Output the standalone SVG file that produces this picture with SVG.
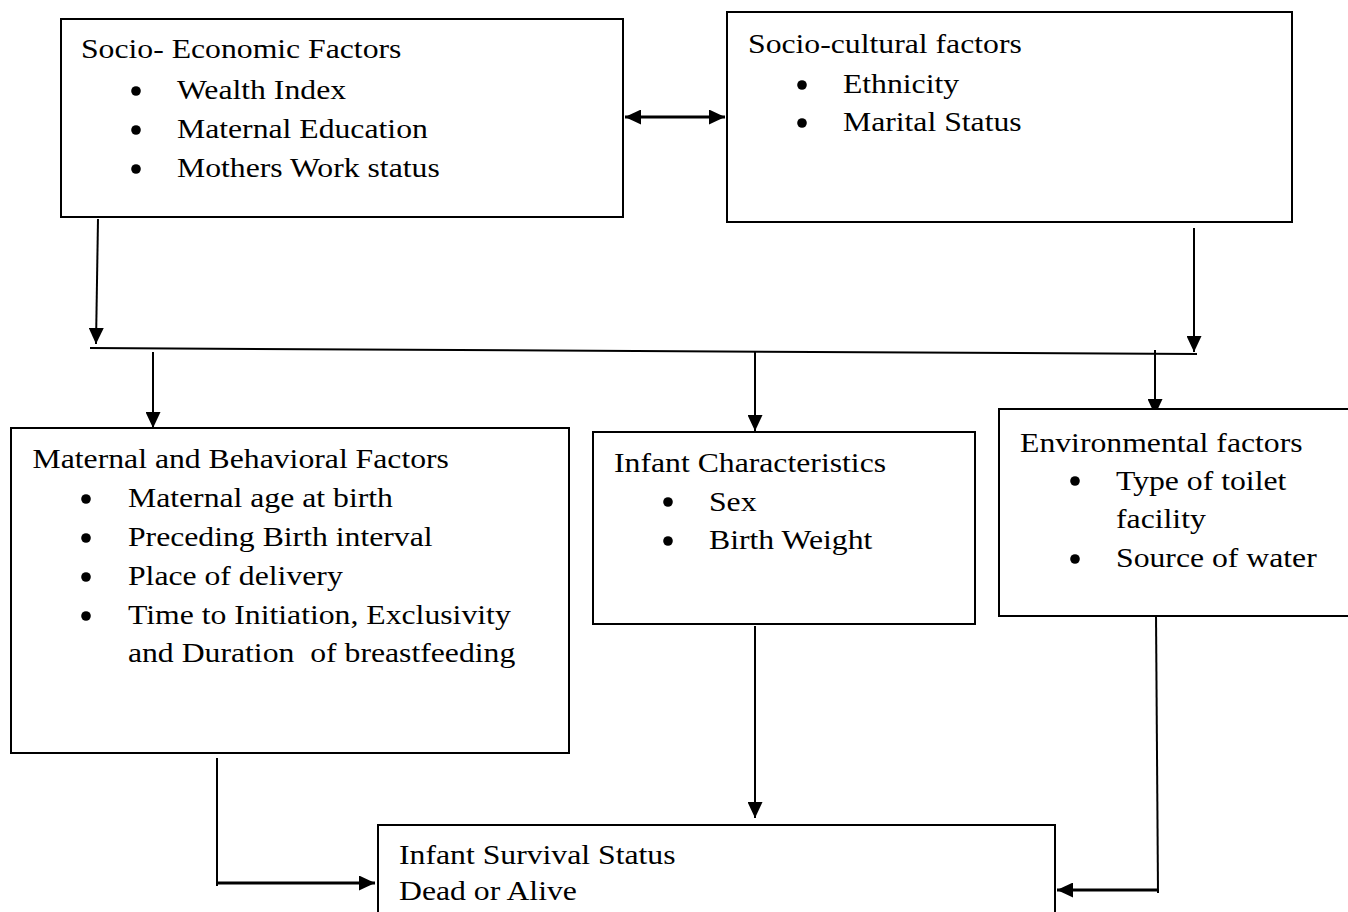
<svg xmlns="http://www.w3.org/2000/svg" width="1348" height="912" viewBox="0 0 1348 912">
<style>
.box{fill:#fff;stroke:#000;stroke-width:2}
text{font-family:'Liberation Serif','Times New Roman',serif;font-size:27px;fill:#000}
.c{stroke:#000;stroke-width:2;fill:none}
.t{stroke-width:3}
.b{fill:#000}
</style>
<defs>
<marker id="ah" viewBox="0 0 16 15" refX="16" refY="7.5" markerWidth="16" markerHeight="15" markerUnits="userSpaceOnUse" orient="auto-start-reverse">
<path d="M0,0 L16,7.5 L0,15 z" fill="#000"/>
</marker>
</defs>
<rect width="1348" height="912" fill="#fff"/>
<g id="connectors">
<line class="c t" x1="625" y1="117" x2="725" y2="117" marker-start="url(#ah)" marker-end="url(#ah)"/>
<line class="c" x1="98" y1="219" x2="96" y2="344" marker-end="url(#ah)"/>
<line class="c" x1="1194" y1="228" x2="1194" y2="352" marker-end="url(#ah)"/>
<line class="c" x1="90" y1="348" x2="1197" y2="354" stroke-width="2.4"/>
<line class="c" x1="153" y1="352" x2="153" y2="428" marker-end="url(#ah)"/>
<line class="c" x1="755" y1="352" x2="755" y2="431" marker-end="url(#ah)"/>
<line class="c" x1="1155" y1="350" x2="1155" y2="415" marker-end="url(#ah)"/>
<line class="c" x1="755" y1="626" x2="755" y2="818" marker-end="url(#ah)"/>
<line class="c" x1="217" y1="758" x2="217" y2="886"/>
<line class="c t" x1="216" y1="883" x2="375" y2="883" marker-end="url(#ah)"/>
<line class="c" x1="1156" y1="614" x2="1158" y2="893"/>
<line class="c t" x1="1158" y1="890" x2="1057" y2="890" marker-end="url(#ah)"/>
</g>
<g id="socio-economic">
<rect class="box" x="61" y="19" width="562" height="198"/>
<circle class="b" cx="136" cy="91" r="4.8"/>
<circle class="b" cx="136" cy="130" r="4.8"/>
<circle class="b" cx="136" cy="169" r="4.8"/>
<g transform="scale(1.175,1)">
<text x="68.9" y="58">Socio- Economic Factors</text>
<text x="150.6" y="99">Wealth Index</text>
<text x="150.6" y="138">Maternal Education</text>
<text x="150.6" y="177">Mothers Work status</text>
</g>
</g>
<g id="socio-cultural">
<rect class="box" x="727" y="12" width="565" height="210"/>
<circle class="b" cx="802" cy="85" r="4.8"/>
<circle class="b" cx="802" cy="123" r="4.8"/>
<g transform="scale(1.175,1)">
<text x="636.6" y="53">Socio-cultural factors</text>
<text x="717.4" y="93">Ethnicity</text>
<text x="717.4" y="131">Marital Status</text>
</g>
</g>
<g id="maternal">
<rect class="box" x="11" y="428" width="558" height="325"/>
<circle class="b" cx="86" cy="499" r="4.8"/>
<circle class="b" cx="86" cy="538" r="4.8"/>
<circle class="b" cx="86" cy="577" r="4.8"/>
<circle class="b" cx="86" cy="616" r="4.8"/>
<g transform="scale(1.175,1)">
<text x="27.7" y="468">Maternal and Behavioral Factors</text>
<text x="108.9" y="507">Maternal age at birth</text>
<text x="108.9" y="546">Preceding Birth interval</text>
<text x="108.9" y="585">Place of delivery</text>
<text x="108.9" y="624">Time to Initiation, Exclusivity</text>
<text x="108.9" y="662" xml:space="preserve">and Duration  of breastfeeding</text>
</g>
</g>
<g id="infant-characteristics">
<rect class="box" x="593" y="432" width="382" height="192"/>
<circle class="b" cx="668" cy="502" r="4.8"/>
<circle class="b" cx="668" cy="541" r="4.8"/>
<g transform="scale(1.175,1)">
<text x="522.6" y="472">Infant Characteristics</text>
<text x="603.4" y="511">Sex</text>
<text x="603.4" y="549">Birth Weight</text>
</g>
</g>
<g id="environmental">
<rect class="box" x="999" y="409" width="360" height="207"/>
<circle class="b" cx="1075" cy="481" r="4.8"/>
<circle class="b" cx="1075" cy="559" r="4.8"/>
<g transform="scale(1.175,1)">
<text x="868.1" y="452">Environmental factors</text>
<text x="949.8" y="490">Type of toilet</text>
<text x="949.8" y="528">facility</text>
<text x="949.8" y="567">Source of water</text>
</g>
</g>
<g id="survival">
<rect class="box" x="378" y="825" width="677" height="100"/>
<g transform="scale(1.175,1)">
<text x="339.6" y="864">Infant Survival Status</text>
<text x="339.6" y="900">Dead or Alive</text>
</g>
</g>
</svg>
